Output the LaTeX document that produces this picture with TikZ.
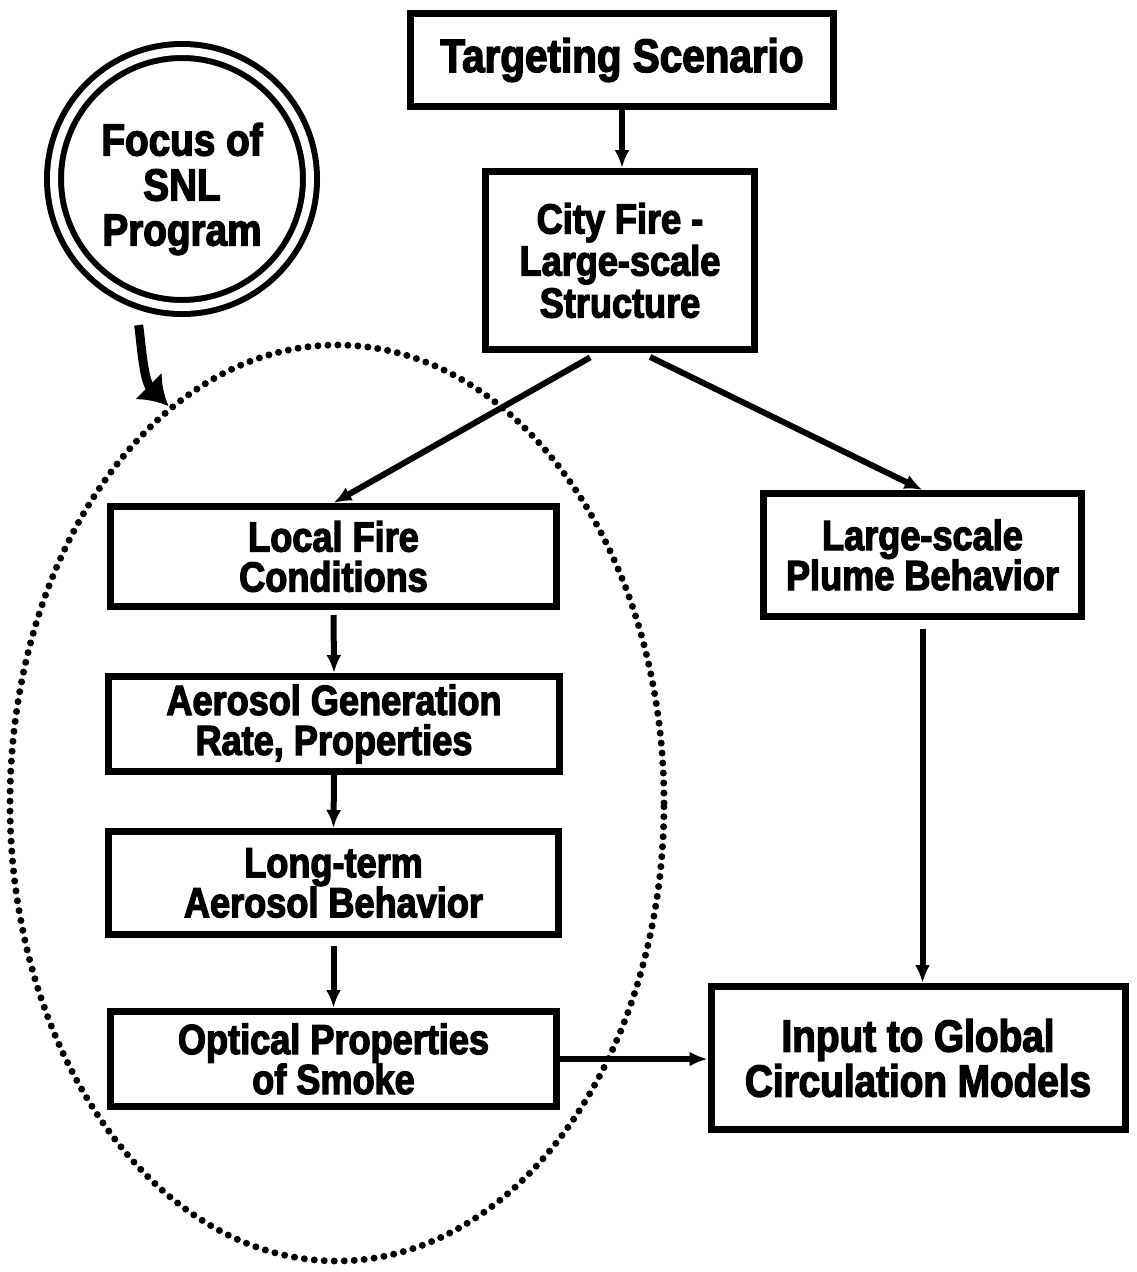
\documentclass[tikz,border=0pt]{standalone}
\usepackage{fontspec}
\usetikzlibrary{arrows.meta,shapes.geometric}
\newfontfamily\labelfont[FakeStretch=0.86,FakeBold=3]{Liberation Sans Bold}
\newcommand{\labsize}[1]{\labelfont\fontsize{#1bp}{#1bp}\selectfont}

\tikzset{
  box/.style={draw, rectangle, line width=7bp, inner sep=0pt, align=center,
              font=\labelfont\fontsize{42bp}{40bp}\selectfont},
  conn/.style={line width=6bp, -{Latex[length=18bp,width=15bp]}, shorten <=5bp},
  dotline/.style={line width=7bp, line cap=round, dash pattern=on 0bp off 10bp},
}

\begin{document}
\begin{tikzpicture}[x=1bp,y=-1bp]
  \fill[white] (0,0) rectangle (1137,1272);
  \useasboundingbox (0,0) rectangle (1137,1272);

  % main chain of boxes
  \node[box, minimum width=423bp, minimum height=93bp,
        font=\labsize{47}] (target) at (622,60) {Targeting Scenario};
  \node[box, minimum width=269bp, minimum height=178bp,
        font=\labsize{42}] (city) at (620,260.5) {City Fire -\\Large-scale\\Structure};
  \node[box, minimum width=446bp, minimum height=100bp] (local) at (333.5,556.5) {Local Fire\\Conditions};
  \node[box, minimum width=451bp, minimum height=95bp] (aerosol) at (334,724) {Aerosol Generation\\Rate, Properties};
  \node[box, minimum width=450bp, minimum height=103bp] (longterm) at (333.5,883) {Long-term\\Aerosol Behavior};
  \node[box, minimum width=446bp, minimum height=95bp] (optical) at (333.5,1059) {Optical Properties\\of Smoke};
  \node[box, minimum width=318bp, minimum height=123bp] (plume) at (922.5,555) {Large-scale\\Plume Behavior};
  \node[box, minimum width=414bp, minimum height=143bp,
        font=\labsize{45}] (input) at (918,1058) {Input to Global\\Circulation Models};

  % dotted region around the SNL part of the chain
  \node[ellipse, draw, dotline, minimum width=654bp, minimum height=916bp,
        inner sep=0pt] (snlzone) at (337,803) {};

  % double circle label
  \node[circle, draw, line width=6bp, double, double distance=8bp,
        minimum size=256bp, inner sep=0pt] (focus) at (182,179) {};
  \node[align=center, inner sep=0pt, font=\labsize{45}] (focustext) at (182,189) {Focus of\\SNL\\Program};

  % connectors
  \draw[conn, shorten <=0bp] (target.south) -- (target.south |- city.north);
  \draw[conn, shorten <=9bp] ([xshift=-22bp]city.south) -- (local.north);
  \draw[conn, shorten <=9bp] ([xshift=22bp]city.south) -- (plume.north);
  \draw[conn] (local.south) -- (aerosol.north);
  \draw[conn, shorten <=0bp] (aerosol.south) -- (longterm.north);
  \draw[conn, shorten <=8bp] (longterm.south) -- (optical.north);
  \draw[conn, shorten <=0bp] (optical.east) -- (optical.east -| input.west);
  \draw[conn, shorten <=9bp] (plume.south) -- (plume.south |- input.north);

  % curved pointer from the circle to the dotted region
  \draw[line width=9bp, -{Latex[length=28bp,width=38bp]}, shorten <=24bp]
    (focus.249) .. controls +(6,40) and +(-25,-25) .. (snlzone.113);
\end{tikzpicture}
\end{document}
